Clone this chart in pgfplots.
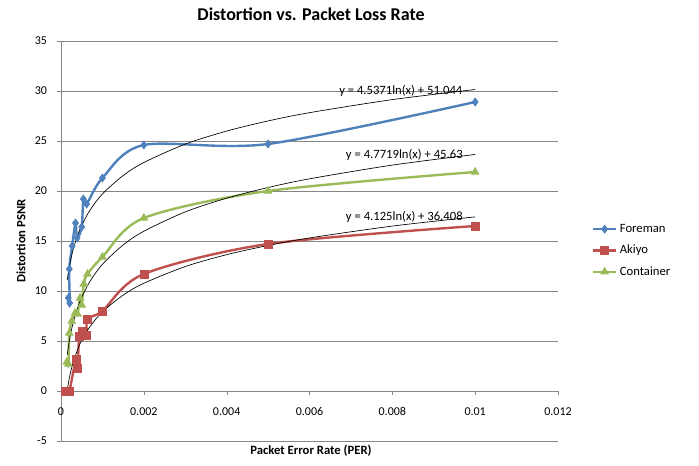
\documentclass[border=0pt]{standalone}
\usepackage{pgfplots}
\pgfplotsset{compat=1.18}
\usepackage{fontspec}
\setmainfont{Carlito}

\definecolor{foreman}{HTML}{4F81BD}
\definecolor{akiyo}{HTML}{C0504D}
\definecolor{container}{HTML}{9BBB59}
\definecolor{gridgray}{HTML}{868686}

\begin{document}
\begin{tikzpicture}
\begin{axis}[
	at={(0,0)}, anchor=south west,
	scale only axis,
	width=372.75pt, height=300pt,
	xmin=0, xmax=0.012,
	ymin=-5, ymax=35,
	xtick={0,0.002,0.004,0.006,0.008,0.01,0.012},
	ytick={-5,0,5,10,15,20,25,30,35},
	scaled x ticks=false,
	xticklabel style={/pgf/number format/fixed, /pgf/number format/precision=3, font=\fontsize{9}{10}\selectfont, yshift=-6pt},
	yticklabel style={font=\fontsize{9}{10}\selectfont, xshift=-4pt},
	/pgf/number format/assume math mode=true,
	axis x line=middle,
	axis y line=left,
	axis line style={draw=gridgray, -},
	hide obscured x ticks=false,
	hide obscured y ticks=false,
	tick align=outside,
	major tick length=3pt,
	tick style={draw=gridgray},
	ymajorgrids,
	grid style={draw=gridgray, line width=0.6pt},
	clip=false,
	legend style={at={(1.068,0.476)}, anchor=west, draw=none, fill=none,
		font=\fontsize{9.5}{11}\selectfont, row sep=4pt, inner sep=0pt},
	legend cell align=left,
]
% Foreman
\addplot[color=foreman, line width=1.8pt, smooth, mark=diamond*, mark size=3pt, mark options={line width=0.5pt}]
	coordinates {
		(0.000176,9.3)(0.00021,8.8)(0.0002,12.2)(0.00027,14.5)(0.00035,16.8)(0.00039,15.3)(0.0005,16.4)(0.00054,19.2)(0.00062,18.7)(0.001,21.3)(0.002,24.6)(0.005,24.7)(0.01,28.9)
	};
\addlegendentry{Foreman}
% Akiyo
\addplot[color=akiyo, line width=1.8pt, smooth, mark=square*, mark size=3pt, mark options={line width=0.5pt}]
	coordinates {
		(0.0001,0)(0.0002,0)(0.00036,3.2)(0.0004,2.3)(0.00044,5.5)(0.00052,6.0)(0.00062,5.6)(0.00064,7.2)(0.001,8.0)(0.002,11.7)(0.005,14.7)(0.01,16.5)
	};
\addlegendentry{Akiyo}
% Container
\addplot[color=container, line width=1.8pt, smooth, mark=triangle*, mark size=3.3pt, mark options={line width=0.5pt}]
	coordinates {
		(0.00014,2.9)(0.00018,2.7)(0.0002,5.8)(0.00026,7.0)(0.00034,7.8)(0.0004,7.7)(0.00046,9.3)(0.0005,8.6)(0.00055,10.7)(0.00064,11.7)(0.001,13.4)(0.002,17.3)(0.005,20.0)(0.01,21.9)
	};
\addlegendentry{Container}
% log trendlines (values of the fitted curves)
\addplot[black, line width=0.5pt, smooth, forget plot]
	coordinates {
		(0.00015,11.095)(0.0002,12.401)(0.00025,13.413)(0.0003,14.240)(0.0004,15.546)(0.0005,16.558)(0.0007,18.085)(0.001,19.703)(0.0015,21.543)(0.002,22.848)(0.003,24.687)(0.004,25.993)(0.005,27.005)(0.006,27.832)(0.008,29.138)(0.01,30.150)
	};
\addplot[black, line width=0.5pt, smooth, forget plot]
	coordinates {
		(0.00015,0.088)(0.0002,1.275)(0.00025,2.195)(0.0003,2.947)(0.0004,4.134)(0.0005,5.054)(0.0007,6.442)(0.001,7.914)(0.0015,9.586)(0.002,10.773)(0.003,12.445)(0.004,13.632)(0.005,14.552)(0.006,15.305)(0.008,16.491)(0.01,17.412)
	};
\addplot[black, line width=0.5pt, smooth, forget plot]
	coordinates {
		(0.00015,3.614)(0.0002,4.987)(0.00025,6.052)(0.0003,6.922)(0.0004,8.294)(0.0005,9.359)(0.0007,10.965)(0.001,12.667)(0.0015,14.602)(0.002,15.975)(0.003,17.909)(0.004,19.282)(0.005,20.347)(0.006,21.217)(0.008,22.590)(0.01,23.655)
	};
\node[font=\fontsize{9.5}{11}\selectfont] at (axis cs:0.008205,30.0) {y = 4.5371ln(x) + 51.044};
\node[font=\fontsize{9.5}{11}\selectfont] at (axis cs:0.00829,23.57) {y = 4.7719ln(x) + 45.63};
\node[font=\fontsize{9.5}{11}\selectfont] at (axis cs:0.00829,17.4) {y = 4.125ln(x) + 36.408};
\end{axis}
\node[font=\bfseries\fontsize{13.5}{16}\selectfont] at (187.5pt,320.25pt) {Distortion vs. Packet Loss Rate};
\node[font=\bfseries\fontsize{9.5}{11}\selectfont] at (187.5pt,-7.5pt) {Packet Error Rate (PER)};
\node[font=\bfseries\fontsize{9.5}{11}\selectfont, rotate=90] at (-30pt,150pt) {Distortion PSNR};
\path[use as bounding box] (-45.75pt,-18.75pt) rectangle (478.5pt,330.75pt);
\end{tikzpicture}
\end{document}
